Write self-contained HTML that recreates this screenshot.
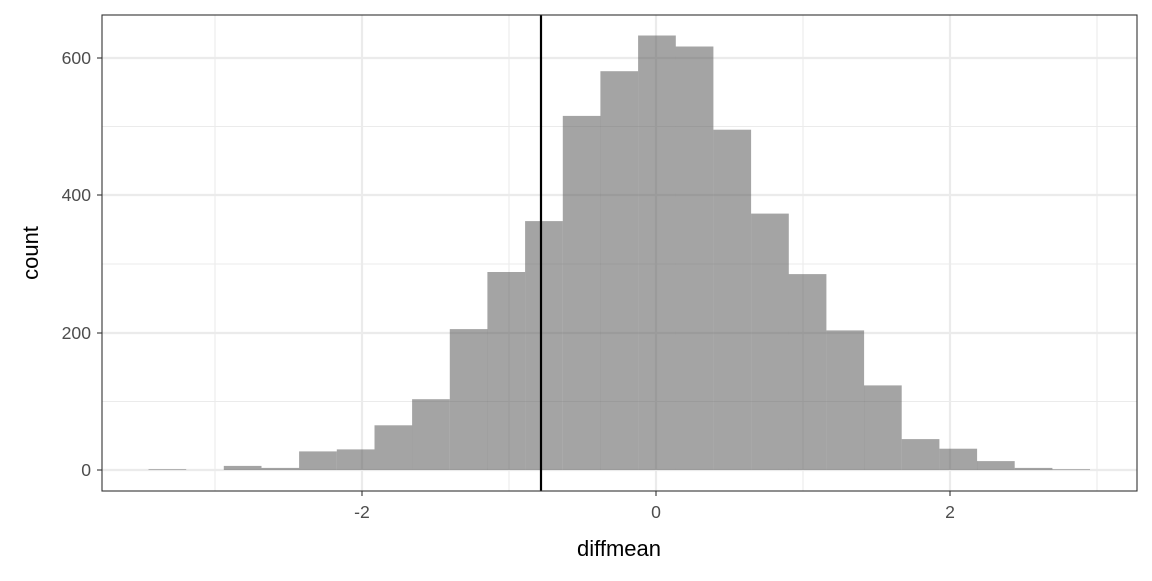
<!DOCTYPE html>
<html><head><meta charset="utf-8"><style>body{margin:0;background:#fff}</style></head><body>
<svg width="1152" height="576" xmlns="http://www.w3.org/2000/svg" font-family="Liberation Sans, sans-serif">
<rect width="1152" height="576" fill="#fff"/>
<g stroke="#ebebeb" stroke-width="1.1">
<line x1="102" x2="1137" y1="401.5" y2="401.5"/><line x1="102" x2="1137" y1="264" y2="264"/><line x1="102" x2="1137" y1="126.5" y2="126.5"/>
<line x1="215" x2="215" y1="15" y2="491"/><line x1="509" x2="509" y1="15" y2="491"/><line x1="803" x2="803" y1="15" y2="491"/><line x1="1097" x2="1097" y1="15" y2="491"/>
</g>
<g stroke="#ebebeb" stroke-width="2.2">
<line x1="102" x2="1137" y1="470" y2="470"/><line x1="102" x2="1137" y1="333" y2="333"/><line x1="102" x2="1137" y1="195" y2="195"/><line x1="102" x2="1137" y1="58" y2="58"/>
<line x1="362" x2="362" y1="15" y2="491"/><line x1="656" x2="656" y1="15" y2="491"/><line x1="950" x2="950" y1="15" y2="491"/>
</g>
<g fill="#595959" fill-opacity="0.55">
<rect x="148.5" y="469.3" width="37.7" height="0.7"/>
<rect x="223.8" y="465.9" width="37.7" height="4.1"/>
<rect x="261.5" y="467.9" width="37.7" height="2.1"/>
<rect x="299.1" y="451.4" width="37.7" height="18.6"/>
<rect x="336.8" y="449.4" width="37.7" height="20.6"/>
<rect x="374.5" y="425.3" width="37.7" height="44.7"/>
<rect x="412.1" y="399.2" width="37.7" height="70.8"/>
<rect x="449.8" y="329.1" width="37.7" height="140.9"/>
<rect x="487.4" y="272" width="37.7" height="198"/>
<rect x="525.1" y="221.1" width="37.7" height="248.9"/>
<rect x="562.8" y="115.9" width="37.7" height="354.1"/>
<rect x="600.4" y="71.2" width="37.7" height="398.8"/>
<rect x="638.1" y="35.5" width="37.7" height="434.5"/>
<rect x="675.7" y="46.5" width="37.7" height="423.5"/>
<rect x="713.4" y="129.7" width="37.7" height="340.3"/>
<rect x="751.1" y="213.6" width="37.7" height="256.4"/>
<rect x="788.7" y="274.1" width="37.7" height="195.9"/>
<rect x="826.4" y="330.4" width="37.7" height="139.6"/>
<rect x="864.0" y="385.4" width="37.7" height="84.6"/>
<rect x="901.7" y="439.1" width="37.7" height="30.9"/>
<rect x="939.4" y="448.7" width="37.7" height="21.3"/>
<rect x="977.0" y="461.1" width="37.7" height="8.9"/>
<rect x="1014.7" y="467.9" width="37.7" height="2.1"/>
<rect x="1052.3" y="469.3" width="37.7" height="0.7"/>
</g>
<line x1="541" x2="541" y1="15" y2="491" stroke="#000" stroke-width="2.2"/>
<rect x="102" y="15" width="1035" height="476" fill="none" stroke="#333" stroke-width="1.1"/>
<g stroke="#333" stroke-width="1.1">
<line x1="97" x2="102" y1="470" y2="470"/><line x1="97" x2="102" y1="333" y2="333"/><line x1="97" x2="102" y1="195" y2="195"/><line x1="97" x2="102" y1="58" y2="58"/>
<line x1="362" x2="362" y1="491" y2="496"/><line x1="656" x2="656" y1="491" y2="496"/><line x1="950" x2="950" y1="491" y2="496"/>
</g>
<g fill="#4d4d4d" font-size="17.6" text-anchor="end">
<text x="91" y="476">0</text><text x="91" y="339">200</text><text x="91" y="201">400</text><text x="91" y="64">600</text>
</g>
<g fill="#4d4d4d" font-size="17.6" text-anchor="middle">
<text x="362" y="518">-2</text><text x="656" y="518">0</text><text x="950" y="518">2</text>
</g>
<text x="619" y="556" font-size="22" text-anchor="middle" fill="#000">diffmean</text>
<text transform="translate(38,253) rotate(-90)" font-size="22" text-anchor="middle" fill="#000">count</text>
</svg>
</body></html>
